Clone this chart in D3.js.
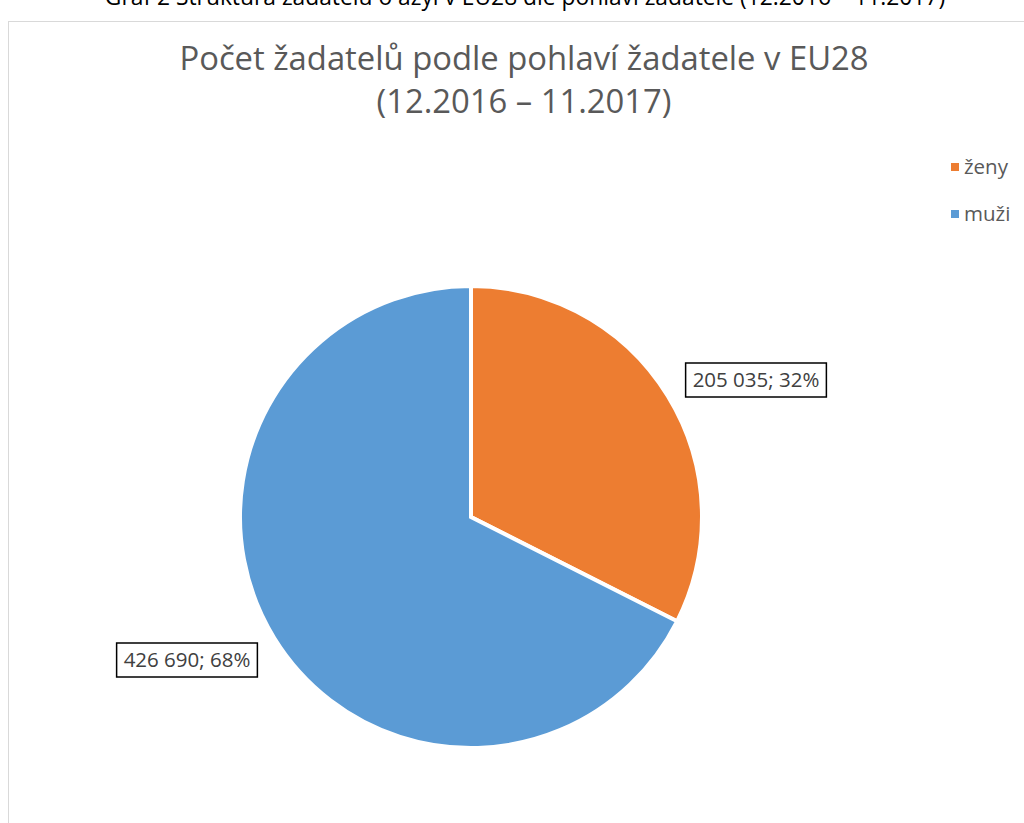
<!DOCTYPE html>
<html>
<head>
<meta charset="utf-8">
<script src="https://cdn.jsdelivr.net/npm/d3@7"></script>
<style>
  body { margin: 0; background: #fff; }
  text { font-family: "Open Sans", "Noto Sans", sans-serif; }
</style>
</head>
<body>
<div id="chart"></div>
<script>
const categories = ["ženy", "muži"];
const values = [205035, 426690];
const labels = ["205 035; 32%", "426 690; 68%"];
const colors = ["#ED7D31", "#5B9BD5"];

const width = 1024,
      height = 823,
      cx = 471,
      cy = 517,
      radius = 231;

const svg = d3.select("#chart")
  .append("svg")
  .attr("width", width)
  .attr("height", height);

// caption from the page, cut at the top
svg.append("text")
  .attr("x", 525)
  .attr("y", 5)
  .attr("text-anchor", "middle")
  .attr("font-size", 22.8)
  .attr("fill", "#000")
  .text("Graf 2 Struktura žadatelů o azyl v EU28 dle pohlaví žadatele (12.2016 – 11.2017)");

// chart area border
svg.append("rect")
  .attr("x", 8.5)
  .attr("y", 21.5)
  .attr("width", 1030)
  .attr("height", 820)
  .attr("fill", "none")
  .attr("stroke", "#d9d9d9");

// title
svg.append("g")
  .attr("fill", "#595959")
  .attr("font-size", 32.8)
  .attr("text-anchor", "middle")
  .selectAll("text")
  .data(["Počet žadatelů podle pohlaví žadatele v EU28", "(12.2016 – 11.2017)"])
  .join("text")
  .attr("x", 524)
  .attr("y", (d, i) => 70 + i * 43)
  .text(d => d);

const data = categories.map((c, i) => ({category: c, value: values[i], label: labels[i]}));

const arcs = d3.pie().sort(null).value(d => d.value)(data);
const arc = d3.arc().innerRadius(0).outerRadius(radius);

const g = svg.append("g").attr("transform", `translate(${cx},${cy})`);

g.selectAll("path")
  .data(arcs)
  .join("path")
  .attr("fill", (d, i) => colors[i])
  .attr("stroke", "white")
  .attr("stroke-width", 4)
  .attr("stroke-linejoin", "miter")
  .attr("d", arc);

// data labels in boxes
const labelPos = [[756, 380], [187, 660]];
const lab = svg.append("g")
  .selectAll("g")
  .data(data)
  .join("g")
  .attr("transform", (d, i) => `translate(${labelPos[i]})`);

lab.append("text")
  .attr("text-anchor", "middle")
  .attr("dy", "0.35em")
  .attr("font-size", 20.5)
  .attr("fill", "#404040")
  .text(d => d.label);

lab.each(function() {
  const t = d3.select(this).select("text").node().getBBox();
  d3.select(this).insert("rect", "text")
    .attr("x", t.x - 7)
    .attr("y", -17)
    .attr("width", t.width + 14)
    .attr("height", 34)
    .attr("fill", "white")
    .attr("stroke", "#000")
    .attr("stroke-width", 1.5);
});

// legend
const legend = svg.append("g")
  .selectAll("g")
  .data(categories)
  .join("g")
  .attr("transform", (d, i) => `translate(951,${167 + i * 47})`);

legend.append("rect")
  .attr("x", 0)
  .attr("y", -4)
  .attr("width", 8)
  .attr("height", 8)
  .attr("fill", (d, i) => colors[i]);

legend.append("text")
  .attr("x", 13)
  .attr("dy", "0.35em")
  .attr("font-size", 20.5)
  .attr("fill", "#595959")
  .text(d => d);
</script>
</body>
</html>
